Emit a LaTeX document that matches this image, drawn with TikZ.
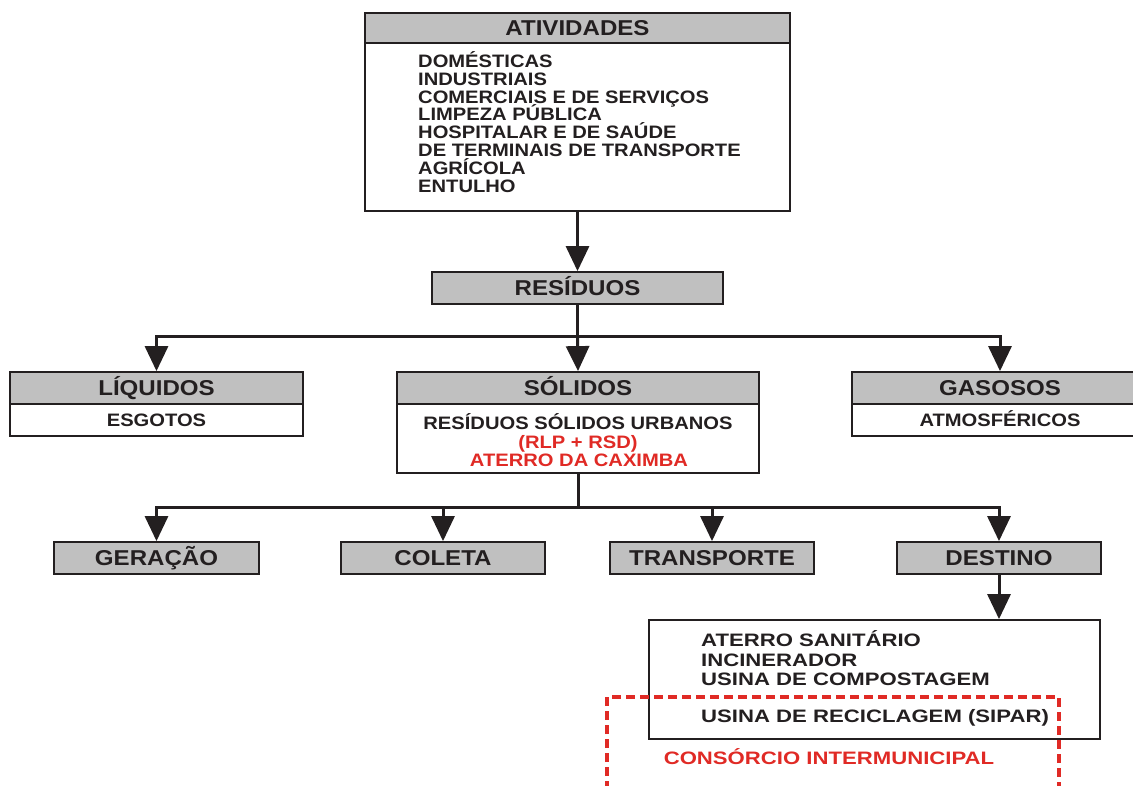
\documentclass[tikz,border=0pt]{standalone}
\usepackage{fontspec}
\setmainfont{Liberation Sans}[FakeStretch=1.12]
\newfontfamily\widefam{Liberation Sans}[FakeStretch=1.23]
\usetikzlibrary{arrows.meta}
\definecolor{ink}{HTML}{231F20}
\definecolor{hdrgray}{HTML}{C0C0C0}
\definecolor{redtxt}{HTML}{E02A25}
\newcommand{\hdrfont}{\bfseries\fontsize{21.5}{24}\selectfont}
\newcommand{\bodyfont}{\bfseries\fontsize{18}{20}\selectfont}
\newcommand{\widebody}{\widefam\bfseries\fontsize{18}{20}\selectfont}
\tikzset{
  hdrbox/.style={draw=ink, line width=1.8pt, fill=hdrgray, inner sep=0pt,
    font=\hdrfont, text=ink, text height=15.4pt, text depth=0pt},
  bodybox/.style={draw=ink, line width=1.8pt, fill=white, inner sep=0pt,
    font=\bodyfont, text=ink, text height=12.9pt, text depth=0pt},
  linetxt/.style={inner sep=0pt, font=\bodyfont, text=ink, text height=12.9pt, text depth=0pt},
  redline/.style={linetxt, text=redtxt},
  wideline/.style={linetxt, font=\widebody},
  conn/.style={draw=ink, line width=3pt},
  arr/.style={conn, -{Triangle[width=23pt,length=25pt]}},
  reddash/.style={draw=redtxt, line width=3.5pt, dash pattern=on 9pt off 5pt}
}
\begin{document}
\begin{tikzpicture}[x=1pt,y=-1pt]
\useasboundingbox (0,0) rectangle (1133,785);

% ATIVIDADES
\node[bodybox, minimum width=425pt, minimum height=168pt] (atvb) at (577.5,127) {};
\node[hdrbox, minimum width=425pt, minimum height=30pt] (atvh) at (577.5,28) {ATIVIDADES};
\foreach \t [count=\i from 0] in {DOMÉSTICAS, INDUSTRIAIS, COMERCIAIS E DE SERVIÇOS, LIMPEZA PÚBLICA, HOSPITALAR E DE SAÚDE, DE TERMINAIS DE TRANSPORTE, AGRÍCOLA, ENTULHO}
  \node[linetxt, anchor=west] (atv\i) at (418,{61+17.8*\i}) {\t};

% RESIDUOS
\node[hdrbox, minimum width=291pt, minimum height=32pt] (res) at (577.5,288) {RESÍDUOS};

% LIQUIDOS
\node[bodybox, minimum width=293pt, minimum height=32pt] (liqb) at (156.5,420) {ESGOTOS};
\node[hdrbox, minimum width=293pt, minimum height=32pt] (liqh) at (156.5,388) {LÍQUIDOS};

% SOLIDOS
\node[bodybox, minimum width=362pt, minimum height=69pt] (solb) at (578,438.5) {};
\node[hdrbox, minimum width=362pt, minimum height=32pt] (solh) at (578,388) {SÓLIDOS};
\node[linetxt] (sol1) at (578,423) {RESÍDUOS SÓLIDOS URBANOS};
\node[redline] (sol2) at (578,442) {(RLP + RSD)};
\node[redline] (sol3) at (579,460) {ATERRO DA CAXIMBA};

% GASOSOS
\node[bodybox, minimum width=296pt, minimum height=32pt] (gasb) at (1000,420) {ATMOSFÉRICOS};
\node[hdrbox, minimum width=296pt, minimum height=32pt] (gash) at (1000,388) {GASOSOS};

% second level
\node[hdrbox, minimum width=205pt, minimum height=32pt] (ger) at (156.5,558) {GERAÇÃO};
\node[hdrbox, minimum width=204pt, minimum height=32pt] (col) at (443,558) {COLETA};
\node[hdrbox, minimum width=204pt, minimum height=32pt] (tra) at (712,558) {TRANSPORTE};
\node[hdrbox, minimum width=204pt, minimum height=32pt] (des) at (999,558) {DESTINO};

% destino box
\node[bodybox, minimum width=451pt, minimum height=119pt] (dbox) at (874.5,679.5) {};
\node[wideline, anchor=west] (d1) at (701,640) {ATERRO SANITÁRIO};
\node[wideline, anchor=west] (d2) at (701,660) {INCINERADOR};
\node[wideline, anchor=west] (d3) at (701,679) {USINA DE COMPOSTAGEM};
\node[wideline, anchor=west] (d4) at (701,716) {USINA DE RECICLAGEM (SIPAR)};

% connectors
\draw[arr] (atvb.south) -- (res.north);
\coordinate (j1) at (577.5,336);
\coordinate (j2) at (578,507);
\draw[conn] (res.south) -- (j1);
\draw[arr] (j1) -| (liqh.north);
\draw[arr] (j1) -- (solh.north);
\draw[arr] (j1) -| (gash.north);
\draw[conn] (solb.south) -- (j2);
\draw[arr] (j2) -| (ger.north);
\draw[arr] (j2) -| (col.north);
\draw[arr] (j2) -| (tra.north);
\draw[arr] (j2) -| (des.north);
\draw[arr] (des.south) -- (des.south |- dbox.north);

% consorcio
\coordinate (r1) at (607,790);
\coordinate (r2) at (607,697);
\coordinate (r3) at (1059,697);
\coordinate (r4) at (1059,790);
\draw[reddash] (r1) -- (r2) -- (r3) -- (r4);
\node[wideline, text=redtxt] (cons) at (829,758) {CONSÓRCIO INTERMUNICIPAL};
\end{tikzpicture}
\end{document}
